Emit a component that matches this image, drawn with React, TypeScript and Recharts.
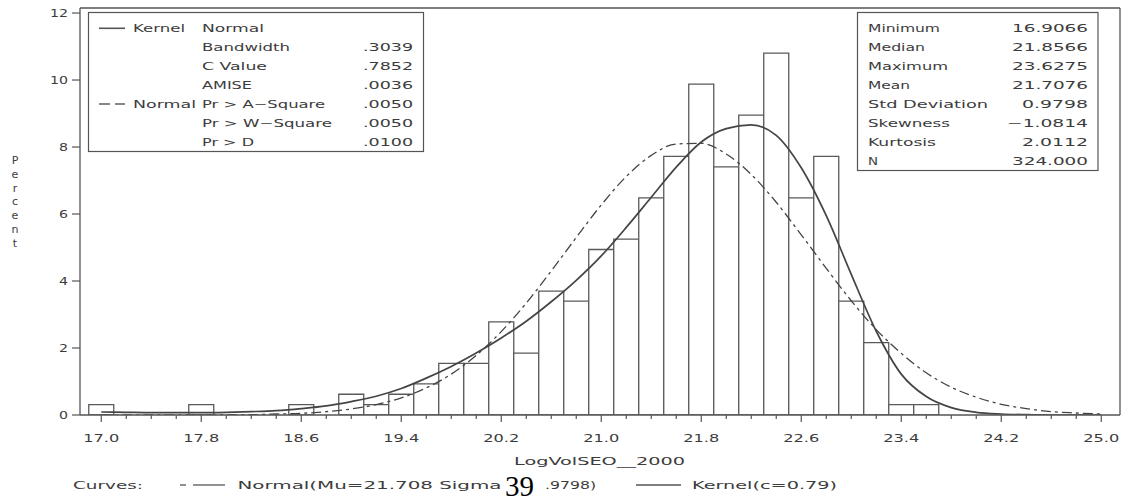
import React from "react";
import { ComposedChart, Bar, Line, XAxis, YAxis, ReferenceLine } from "recharts";

// bin midpoints (width 0.2) and curve sample positions
const binCenters = [
  17.0, 17.2, 17.4, 17.6, 17.8, 18.0, 18.2, 18.4, 18.6, 18.8, 19.0, 19.2, 19.4, 19.6,
  19.8, 20.0, 20.2, 20.4, 20.6, 20.8, 21.0, 21.2, 21.4, 21.6, 21.8, 22.0, 22.2, 22.4,
  22.6, 22.8, 23.0, 23.2, 23.4, 23.6, 23.8, 24.0, 24.2, 24.4, 24.6, 24.8, 25.0,
];
// histogram percent, 17.0 .. 23.6
const barPercent = [
  0.31, 0, 0, 0, 0.31, 0, 0, 0, 0.31, 0, 0.62, 0.31, 0.62, 0.93, 1.54, 1.54, 2.78,
  1.85, 3.7, 3.4, 4.94, 5.25, 6.48, 7.72, 9.88, 7.41, 8.95, 10.8, 6.48, 7.72, 3.4,
  2.16, 0.31, 0.31,
];
const normalCurve = [
  0.0, 0.0, 0.0, 0.0, 0.0, 0.01, 0.01, 0.03, 0.05, 0.1, 0.18, 0.31, 0.51, 0.81, 1.22,
  1.78, 2.49, 3.34, 4.3, 5.3, 6.27, 7.12, 7.75, 8.09, 8.11, 7.79, 7.18, 6.35, 5.38,
  4.38, 3.41, 2.55, 1.84, 1.26, 0.83, 0.53, 0.32, 0.19, 0.1, 0.06, 0.03,
];
const kernelCurve = [
  0.09, 0.08, 0.07, 0.07, 0.07, 0.08, 0.1, 0.13, 0.19, 0.27, 0.4, 0.56, 0.79, 1.1,
  1.45, 1.85, 2.3, 2.8, 3.38, 4.02, 4.75, 5.6, 6.5, 7.4, 8.15, 8.55, 8.66, 8.35, 7.38,
  5.95, 4.2, 2.5, 1.22, 0.55, 0.22, 0.08, 0.03, 0.01, 0.0, 0.0, 0.0,
];
const xMajorLabels = ["17.0", "17.8", "18.6", "19.4", "20.2", "21.0", "21.8", "22.6", "23.4", "24.2", "25.0"];
const yTicks = [0, 2, 4, 6, 8, 10, 12];

const fitLabels = ["Bandwidth", "C Value", "AMISE", "Pr > A\u2212Square", "Pr > W\u2212Square", "Pr > D"];
const fitValues = [".3039", ".7852", ".0036", ".0050", ".0050", ".0100"];
const statNames = ["Minimum", "Median", "Maximum", "Mean", "Std Deviation", "Skewness", "Kurtosis", "N"];
const statValues = ["16.9066", "21.8566", "23.6275", "21.7076", "0.9798", "\u22121.0814", "2.0112", "324.000"];

// measured text widths (px) so the wide SAS font is approximated
const fitLabelW = [88, 65, 50, 123, 130, 52];
const statNameW = [72, 57, 80, 42, 120, 82, 68, 10];
const statValueW = [76, 76, 76, 76, 66, 81, 66, 76];

const table = binCenters.map((x, i) => ({
  x,
  pct: i < barPercent.length ? barPercent[i] : null,
  normal: normalCurve[i],
  kernel: kernelCurve[i],
}));

const FONT = "'DejaVu Sans', Verdana, sans-serif";
const INK = "#3c3c3c";
const STROKE = "#555";

function T({ x, y, w, anchor = "start", size = 10.5, children }: any) {
  return (
    <text
      x={x}
      y={y}
      textAnchor={anchor}
      fontSize={size}
      fontFamily={FONT}
      fill={INK}
      textLength={w}
      lengthAdjust="spacingAndGlyphs"
    >
      {children}
    </text>
  );
}

const XTick = (props: any) => {
  const { x, y, payload } = props;
  const label = Number(payload.value).toFixed(1);
  const major = xMajorLabels.includes(label);
  return (
    <g>
      <line x1={x} y1={y} x2={x} y2={y + (major ? 7 : 4)} stroke={STROKE} strokeWidth={1.2} />
      {major && (
        <T x={x} y={y + 27} w={36} anchor="middle">
          {label}
        </T>
      )}
    </g>
  );
};

const YTick = (props: any) => {
  const { x, y, payload } = props;
  const label = String(payload.value);
  return (
    <g>
      <line x1={x - 8} y1={y} x2={x} y2={y} stroke={STROKE} strokeWidth={1.2} />
      <T x={x - 12} y={y + 4} w={label.length * 9} anchor="end">
        {label}
      </T>
    </g>
  );
};

const rowY = (i: number) => 28.3 + 18.9 * i + 3.9;

function Overlay() {
  return (
    <svg width={1130} height={501} style={{ position: "absolute", left: 0, top: 0, pointerEvents: "none" }}>
      {/* fit box */}
      <rect x={88.5} y={12.5} width={335} height={139} fill="none" stroke={STROKE} strokeWidth={1.2} />
      <line x1={99} y1={28.3} x2={125} y2={28.3} stroke={STROKE} strokeWidth={1.6} />
      <T x={133} y={rowY(0)} w={52}>Kernel</T>
      <T x={202} y={rowY(0)} w={62}>Normal</T>
      {fitLabels.map((s, i) => (
        <T key={s + i} x={202} y={rowY(i + 1)} w={fitLabelW[i]}>
          {s}
        </T>
      ))}
      {fitValues.map((s, i) => (
        <T key={"v" + i} x={413} y={rowY(i + 1)} w={50} anchor="end">
          {s}
        </T>
      ))}
      <line x1={99} y1={104} x2={110} y2={104} stroke={STROKE} strokeWidth={1.4} />
      <line x1={115} y1={104} x2={125} y2={104} stroke={STROKE} strokeWidth={1.4} />
      <T x={133} y={rowY(4)} w={63}>Normal</T>

      {/* stats box */}
      <rect x={857.5} y={12.5} width={240.5} height={158} fill="none" stroke={STROKE} strokeWidth={1.2} />
      {statNames.map((s, i) => (
        <T key={s} x={868} y={rowY(i)} w={statNameW[i]}>
          {s}
        </T>
      ))}
      {statValues.map((s, i) => (
        <T key={"s" + i} x={1088} y={rowY(i)} w={statValueW[i]} anchor="end">
          {s}
        </T>
      ))}

      {/* y title, stacked letters */}
      {"Percent".split("").map((c, i) => (
        <text key={i} x={15} y={164 + 13.8 * i} textAnchor="middle" fontSize={11} fontFamily={FONT} fill={INK}>
          {c}
        </text>
      ))}

      {/* x title */}
      <T x={514} y={465} w={171}>LogVolSEO__2000</T>

      {/* curves legend */}
      <T x={73} y={489} w={70}>Curves:</T>
      <line x1={180} y1={485} x2={186} y2={485} stroke={STROKE} strokeWidth={1.3} />
      <line x1={193} y1={485} x2={225} y2={485} stroke={STROKE} strokeWidth={1.3} />
      <T x={237.5} y={489} w={264}>Normal(Mu=21.708 Sigma</T>
      <T x={545} y={489} w={51}>.9798)</T>
      <line x1={636} y1={485} x2={681} y2={485} stroke={STROKE} strokeWidth={1.6} />
      <T x={692} y={489} w={145}>Kernel(c=0.79)</T>
      <text x={505} y={496} fontSize={29} fontFamily="'Liberation Serif', 'DejaVu Serif', serif" fill="#000">
        39
      </text>
    </svg>
  );
}

export default function App() {
  return (
    <div style={{ position: "absolute", left: 0, top: 0, width: 1130, height: 501, background: "#fff" }}>
      <ComposedChart
        width={1130}
        height={501}
        data={table}
        margin={{ top: 8, right: 10, bottom: 56, left: 20 }}
        barCategoryGap={0}
        barGap={0}
      >
        <XAxis
          dataKey="x"
          type="number"
          domain={[16.83, 25.15]}
          allowDataOverflow
          ticks={binCenters}
          interval={0}
          height={30}
          tickSize={0}
          tickMargin={0}
          tickLine={false}
          tick={<XTick />}
          axisLine={{ stroke: STROKE, strokeWidth: 1.3 }}
        />
        <YAxis
          type="number"
          domain={[0, 12.15]}
          allowDataOverflow
          ticks={yTicks}
          interval={0}
          width={60}
          tickSize={0}
          tickMargin={0}
          tickLine={false}
          tick={<YTick />}
          axisLine={{ stroke: STROKE, strokeWidth: 1.3 }}
        />
        <ReferenceLine y={12.15} stroke={STROKE} strokeWidth={1.3} />
        <ReferenceLine x={25.15} stroke={STROKE} strokeWidth={1.3} />
        <Bar dataKey="pct" fill="#fff" stroke="#5a5a5a" strokeWidth={1.3} isAnimationActive={false} />
        <Line
          dataKey="normal"
          type="monotone"
          dot={false}
          stroke="#444"
          strokeWidth={1.3}
          strokeDasharray="10 4 3 4"
          isAnimationActive={false}
        />
        <Line dataKey="kernel" type="monotone" dot={false} stroke="#444" strokeWidth={1.7} isAnimationActive={false} />
      </ComposedChart>
      <Overlay />
    </div>
  );
}
